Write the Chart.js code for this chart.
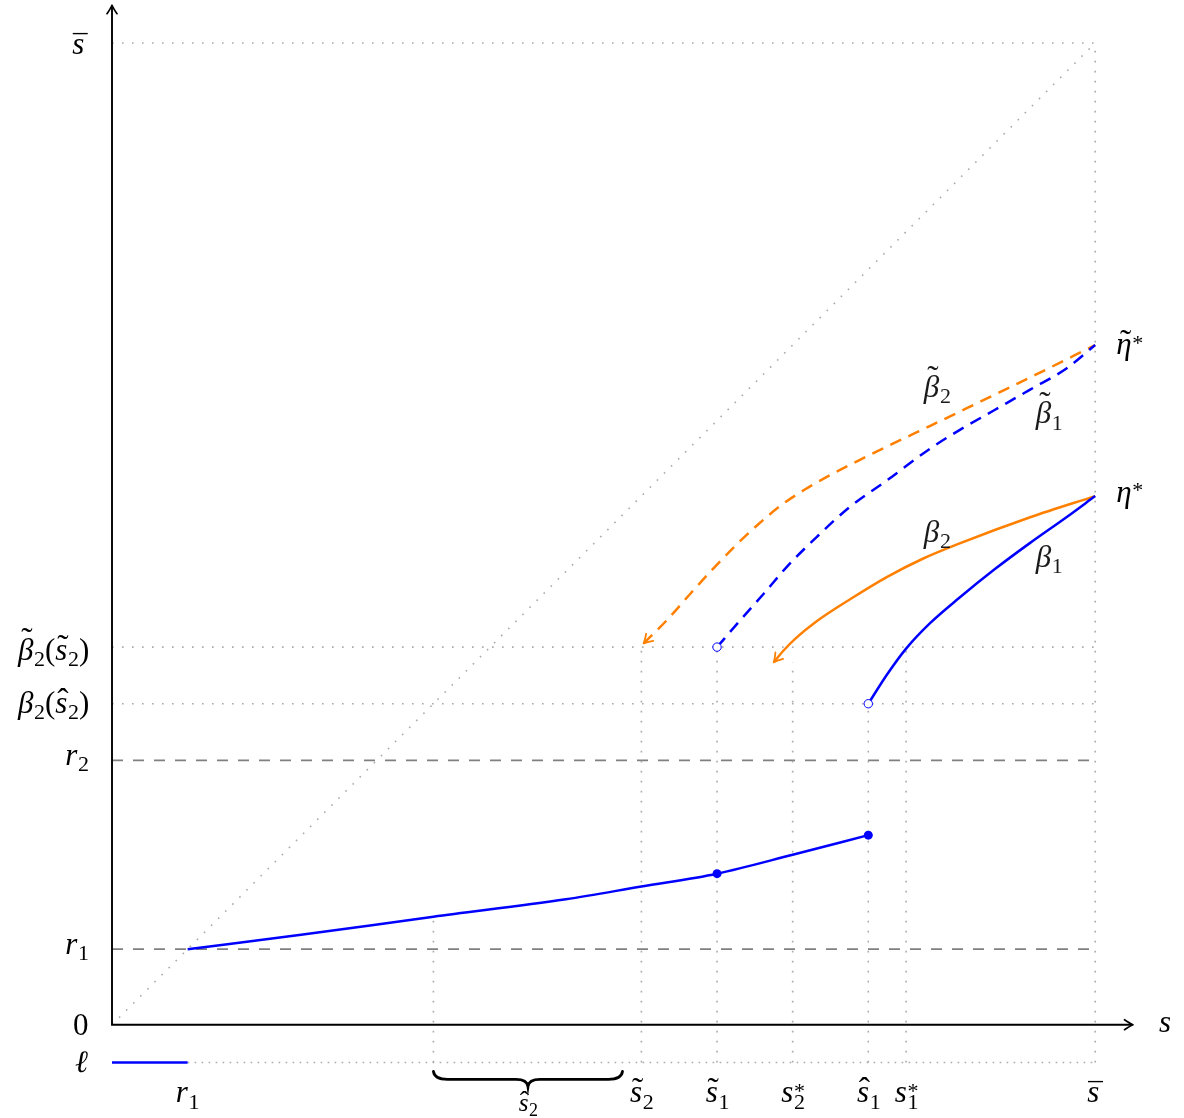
<!DOCTYPE html>
<html><head><meta charset="utf-8">
<script src="https://cdn.jsdelivr.net/npm/chart.js@4.4.1/dist/chart.umd.min.js"></script>
<style>html,body{margin:0;padding:0;background:#fff}#wrap{width:1184px;height:1118px;position:relative}</style>
</head><body><div id="wrap"><canvas id="c"></canvas></div>
<script>
// ---------------- data ----------------
const S_BAR = 13;            // upper end of the state space
const AXIS_MAX = 13.5;       // axis arrow tips
const ELL_LEVEL = -0.5;      // row for the ℓ line under the axis
const R_LEVELS = [1, 3.5];   // r1, r2 (gray dashed)

// lower blue branch (β1 below r2)
const lowX = [1, 2.5, 4.25, 6, 7, 8, 9, 10];
const lowY = [1, 1.19, 1.43, 1.66, 1.83, 2.0, 2.25, 2.51];
// β1 (solid blue)
const beta1X = [10, 10.25, 10.5, 10.82, 11.2, 11.67, 12.14, 12.62, 13];
const beta1Y = [4.25, 4.64, 4.98, 5.32, 5.65, 6.03, 6.38, 6.72, 7];
// β2 (solid orange, arrow at the left end)
const beta2X = [8.75, 8.88, 9.05, 9.30, 9.77, 10.25, 10.72, 11.2, 12.14, 13];
const beta2Y = [4.80, 4.955, 5.125, 5.33, 5.64, 5.93, 6.17, 6.37, 6.72, 7];
// β̃1 (dashed blue)
const beta1tX = [8, 8.31, 8.62, 8.92, 9.32, 9.76, 10.25, 10.82, 11.2, 11.67, 12.14, 12.62, 13];
const beta1tY = [5, 5.36, 5.71, 6.06, 6.46, 6.86, 7.21, 7.63, 7.87, 8.14, 8.41, 8.69, 9];
// β̃2 (dashed orange, arrow at the left end)
const beta2tX = [7.03, 7.34, 7.65, 7.95, 8.26, 8.55, 8.85, 9.15, 9.5, 9.89, 10.38, 10.82, 11.5, 12.2, 13];
const beta2tY = [5.05, 5.36, 5.71, 6.04, 6.36, 6.63, 6.88, 7.08, 7.28, 7.48, 7.72, 7.93, 8.26, 8.6, 9];

const filledDotX = [8, 10], filledDotY = [2.0, 2.51];
const openDotX = [8, 10], openDotY = [5, 4.25];

// dotted guides
const hDottedY = [13, 5, 4.25];
const vDottedX = [4.25, 7, 8, 9, 10, 10.5, 13];
const vDottedTop = [1.43, 5, 5, 4.8, 4.25, 5, 13];
const ellBlueX = [0, 1];

// tick labels ("~" tilde, "^" hat, "=" bar, "_" subscript, "*" star)
const yTickValues = [13, 5, 4.25, 3.5, 1, 0, -0.5];
const yTickLabels = ['=s', '~β_2(~s_2)', 'β_2(^s_2)', 'r_2', 'r_1', '0', 'ℓ'];
const xTickValues = [1, 7, 8, 9, 10, 10.5, 13];
const xTickLabels = ['r_1', '~s_2', '~s_1', 's_2*', '^s_1', 's_1*', '=s'];
const braceFrom = 4.25, braceTo = 6.75, braceLabel = '^s_2';
const curveLabels = ['~β_2', '~β_1', 'β_2', 'β_1'];
const curveLabelX = [10.9, 12.38, 10.9, 12.38];
const curveLabelY = [8.48, 8.13, 6.49, 6.16];
const endLabels = ['~η*', 'η*'];
const endLabelY = [9, 7];
const axisLabel = 's';

// ---------------- styling helpers ----------------
const BLUE = '#0000ff', ORANGE = '#ff8000', GRAY = '#808080', LGRAY = '#aaaaaa';
const FAM = '"Liberation Serif", "DejaVu Serif", serif';
const F = 31;
const DOT = [1.6, 8.4];

const pts = (xs, ys) => xs.map((x, i) => ({x, y: ys[i]}));
function guide(xs, ys, color, dash, width) {
  return {data: pts(xs, ys), showLine: true, borderColor: color, borderWidth: width,
          borderDash: dash, pointRadius: 0, tension: 0, order: 10, clip: false};
}
function curve(xs, ys, color, dash) {
  return {data: pts(xs, ys), showLine: true, borderColor: color, borderWidth: 2.5,
          borderDash: dash || [], pointRadius: 0, cubicInterpolationMode: 'monotone',
          order: 2, clip: false};
}

const datasets = [];
datasets.push(guide([0, S_BAR], [0, S_BAR], LGRAY, DOT, 1.6));
hDottedY.forEach(v => datasets.push(guide([0, S_BAR], [v, v], LGRAY, DOT, 1.6)));
vDottedX.forEach((v, i) => datasets.push(guide([v, v], [ELL_LEVEL, vDottedTop[i]], LGRAY, DOT, 1.6)));
datasets.push(guide([ellBlueX[1], S_BAR], [ELL_LEVEL, ELL_LEVEL], LGRAY, [1.6, 5.4], 1.6));
R_LEVELS.forEach(v => datasets.push(guide([0, S_BAR], [v, v], GRAY, [11, 10], 1.9)));
datasets.push(Object.assign(guide(ellBlueX, [ELL_LEVEL, ELL_LEVEL], BLUE, [], 2.5), {order: 1}));
datasets.push(curve(lowX, lowY, BLUE));
datasets.push(curve(beta1X, beta1Y, BLUE));
datasets.push(curve(beta2X, beta2Y, ORANGE));
datasets.push(curve(beta1tX, beta1tY, BLUE, [12, 8]));
datasets.push(curve(beta2tX, beta2tY, ORANGE, [12, 8]));
datasets.push({data: pts(filledDotX, filledDotY), pointRadius: 4.5, pointBackgroundColor: BLUE,
               pointBorderColor: BLUE, pointBorderWidth: 0, showLine: false, order: 0, clip: false});
datasets.push({data: pts(openDotX, openDotY), pointRadius: 4.2, pointBackgroundColor: '#fff',
               pointBorderColor: BLUE, pointBorderWidth: 1, showLine: false, order: 0, clip: false});

// ---------------- math text ----------------
function layoutMath(ctx, str, size) {
  const items = [];
  const fSub = Math.round(size * 0.7);
  let x = 0, acc = null, subStart = null, i = 0;
  while (i < str.length) {
    const ch = str[i];
    if (ch === '~' || ch === '^' || ch === '=') { acc = ch; i++; continue; }
    if (ch === '_') {
      const c = str[i + 1];
      const font = fSub + 'px ' + FAM;
      ctx.font = font;
      subStart = x;
      items.push({t: c, font, x, dy: size * 0.2});
      x += ctx.measureText(c).width;
      i += 2; continue;
    }
    if (ch === '*') {
      const font = fSub + 'px ' + FAM;
      ctx.font = font;
      const sx = subStart !== null ? subStart : x;
      items.push({t: '*', font, x: sx, dy: -size * 0.14});
      x = Math.max(x, sx + ctx.measureText('*').width);
      i++; continue;
    }
    const italic = /[a-zα-ωℓ]/.test(ch);
    const font = (italic ? 'italic ' : '') + size + 'px ' + FAM;
    ctx.font = font;
    const m = ctx.measureText(ch);
    items.push({t: ch, font, x, dy: 0});
    if (acc) {
      const gTop = -m.actualBoundingBoxAscent;
      const gCx = x + (m.actualBoundingBoxRight - m.actualBoundingBoxLeft) / 2 + (italic ? size * 0.06 : 0);
      const aChar = acc === '~' ? '\u02DC' : acc === '^' ? '\u02C6' : '\u00AF';
      const aSize = acc === '=' ? Math.round(size * 0.95) : Math.round(size * 1.1);
      const aFont = aSize + 'px ' + FAM;
      ctx.font = aFont;
      const am = ctx.measureText(aChar);
      const centerY = gTop - size * (acc === '=' ? 0.2 : 0.25);
      items.push({t: aChar, font: aFont,
                  x: gCx - (am.actualBoundingBoxRight - am.actualBoundingBoxLeft) / 2,
                  dy: centerY + (am.actualBoundingBoxAscent - am.actualBoundingBoxDescent) / 2});
      acc = null;
    }
    x += m.width + (italic ? size * 0.02 : 0);
    subStart = null; i++;
  }
  let left = Infinity, right = -Infinity, top = Infinity, bottom = -Infinity;
  items.forEach(it => {
    ctx.font = it.font;
    const m = ctx.measureText(it.t);
    left = Math.min(left, it.x - m.actualBoundingBoxLeft);
    right = Math.max(right, it.x + m.actualBoundingBoxRight);
    top = Math.min(top, it.dy - m.actualBoundingBoxAscent);
    bottom = Math.max(bottom, it.dy + m.actualBoundingBoxDescent);
  });
  return {items, left, right, top, bottom};
}
function drawMath(ctx, str, size, px, py, h, v, color) {
  const L = layoutMath(ctx, str, size);
  const ox = h === 'center' ? px - (L.left + L.right) / 2 : h === 'right' ? px - L.right : px - L.left;
  const oy = v === 'center' ? py - (L.top + L.bottom) / 2 : py;
  ctx.fillStyle = color || '#000';
  ctx.textBaseline = 'alphabetic';
  ctx.textAlign = 'left';
  L.items.forEach(it => { ctx.font = it.font; ctx.fillText(it.t, ox + it.x, oy + it.dy); });
}
function arrowHead(ctx, x, y, ang, color, lw) {
  ctx.save();
  ctx.translate(x, y); ctx.rotate(ang);
  ctx.strokeStyle = color; ctx.lineWidth = lw; ctx.lineCap = 'round'; ctx.lineJoin = 'round';
  ctx.beginPath();
  ctx.moveTo(-8.5, -5); ctx.quadraticCurveTo(-3, -1.2, 0, 0); ctx.quadraticCurveTo(-3, 1.2, -8.5, 5);
  ctx.stroke();
  ctx.restore();
}

const overlay = {
  id: 'overlay',
  afterDatasetsDraw(chart) {
    const ctx = chart.ctx, xs = chart.scales.x, ys = chart.scales.y;
    const X = v => xs.getPixelForValue(v), Y = v => ys.getPixelForValue(v);
    ctx.save();
    ctx.strokeStyle = '#000'; ctx.lineWidth = 1.9; ctx.lineCap = 'butt';
    ctx.beginPath();
    ctx.moveTo(X(0), Y(AXIS_MAX) + 1); ctx.lineTo(X(0), Y(0)); ctx.lineTo(X(AXIS_MAX) - 1, Y(0));
    ctx.stroke();
    arrowHead(ctx, X(AXIS_MAX), Y(0), 0, '#000', 1.7);
    arrowHead(ctx, X(0), Y(AXIS_MAX), -Math.PI / 2, '#000', 1.7);
    [[beta2X, beta2Y], [beta2tX, beta2tY]].forEach(([cx, cy]) => {
      const x0 = X(cx[0]), y0 = Y(cy[0]), x1 = X(cx[1]), y1 = Y(cy[1]);
      arrowHead(ctx, x0, y0, Math.atan2(y0 - y1, x0 - x1), ORANGE, 1.8);
    });
    // brace
    const bL = X(braceFrom), bR = X(braceTo), bM = (bL + bR) / 2, bT = Y(ELL_LEVEL) + 9;
    ctx.strokeStyle = '#000'; ctx.lineWidth = 2.8; ctx.lineCap = 'round';
    ctx.beginPath();
    ctx.moveTo(bL, bT);
    ctx.quadraticCurveTo(bL + 1, bT + 8, bL + 14, bT + 8);
    ctx.lineTo(bM - 12, bT + 8);
    ctx.quadraticCurveTo(bM - 1, bT + 8, bM, bT + 15);
    ctx.quadraticCurveTo(bM + 1, bT + 8, bM + 12, bT + 8);
    ctx.lineTo(bR - 14, bT + 8);
    ctx.quadraticCurveTo(bR - 1, bT + 8, bR, bT);
    ctx.stroke();
    drawMath(ctx, braceLabel, 25, bM, Y(ELL_LEVEL) + 49, 'center', 'baseline');
    yTickValues.forEach((v, i) => drawMath(ctx, yTickLabels[i], F, X(0) - 24, Y(v), 'right', 'center'));
    xTickValues.forEach((v, i) => drawMath(ctx, xTickLabels[i], F, X(v), Y(ELL_LEVEL) + 40, 'center', 'baseline'));
    endLabelY.forEach((v, i) => drawMath(ctx, endLabels[i], F, X(S_BAR) + 22, Y(v), 'left', 'center'));
    curveLabels.forEach((t, i) => drawMath(ctx, t, F, X(curveLabelX[i]), Y(curveLabelY[i]), 'center', 'center', '#1a1a1a'));
    drawMath(ctx, axisLabel, F, X(AXIS_MAX) + 26, Y(0), 'left', 'center');
    ctx.restore();
  }
};

// scale geometry: 0 at (112,1025), 13 at (1095,42)
new Chart(document.getElementById('c'), {
  type: 'scatter',
  data: {datasets},
  options: {
    responsive: true, maintainAspectRatio: false, animation: false, devicePixelRatio: 1,
    layout: {padding: {left: 112, right: 51, top: 4, bottom: 48}},
    plugins: {legend: {display: false}, tooltip: {enabled: false}},
    events: [],
    scales: {
      x: {type: 'linear', min: 0, max: AXIS_MAX, display: false},
      y: {type: 'linear', min: -0.6, max: AXIS_MAX, display: false}
    }
  },
  plugins: [overlay]
});
</script>
</body></html>
